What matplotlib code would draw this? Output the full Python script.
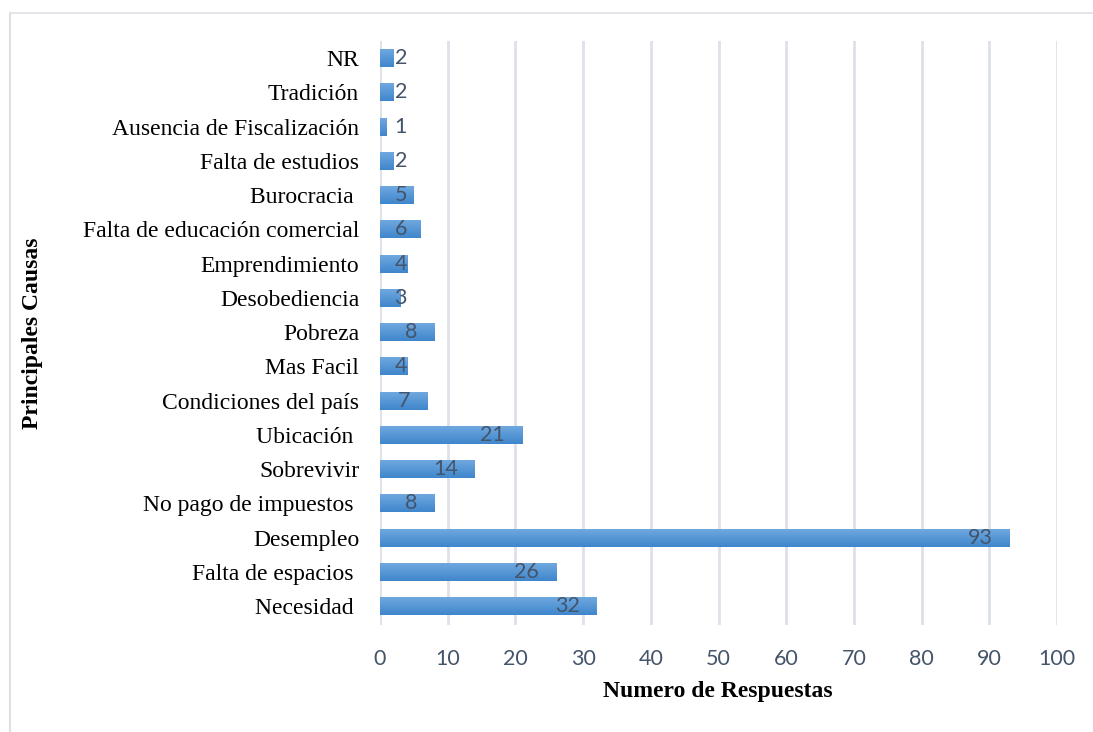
import numpy as np
import matplotlib.pyplot as plt
from matplotlib.colors import LinearSegmentedColormap
from matplotlib.lines import Line2D

# categorias de abajo hacia arriba
causas = ["Necesidad ", "Falta de espacios ", "Desempleo", "No pago de impuestos ",
          "Sobrevivir", "Ubicación ", "Condiciones del país", "Mas Facil", "Pobreza",
          "Desobediencia", "Emprendimiento", "Falta de educación comercial", "Burocracia ",
          "Falta de estudios", "Ausencia de Fiscalización", "Tradición", "NR"]
respuestas = [32, 26, 93, 8, 14, 21, 7, 4, 8, 3, 4, 6, 5, 2, 1, 2, 2]
x_ticks = [0, 10, 20, 30, 40, 50, 60, 70, 80, 90, 100]

serif = ["Liberation Serif", "DejaVu Serif"]
sans = ["Lato", "DejaVu Sans"]
txt_color = "#44546A"

fig = plt.figure(figsize=(10.93, 7.32), dpi=100)
# marco exterior (solo arriba e izquierda)
x0 = 9.5 / 1093
y0 = 1 - 12.5 / 732
fig.lines.append(Line2D([x0, 1], [y0, y0], transform=fig.transFigure,
                        color="#DDE1E7", linewidth=1.2))
fig.lines.append(Line2D([x0, x0], [0, y0], transform=fig.transFigure,
                        color="#DDE1E7", linewidth=1.5))

ax = fig.add_axes([380 / 1093, 1 - 625 / 732, 677 / 1093, 584 / 732])
pos = list(range(len(causas)))
h = 0.52
ax.barh(pos, respuestas, height=h, color="#5B9BD5", zorder=3)

# degradado vertical como en Excel
grad = LinearSegmentedColormap.from_list("g", ["#3F86CC", "#6FA8DF"])
g = np.linspace(0, 1, 50).reshape(-1, 1)
for y, v in zip(pos, respuestas):
    ax.imshow(g, cmap=grad, aspect="auto", origin="lower",
              extent=[0, v, y - h / 2, y + h / 2], zorder=3.5)

for y, v in zip(pos, respuestas):
    ax.text(max(4.0, v - 2.5), y, str(v), ha="right", va="center",
            fontsize=15.5, color=txt_color, family=sans, zorder=4)

ax.set_xlim(0, 100)
ax.set_ylim(-0.55, 16.5)
ax.set_xticks(x_ticks)
ax.set_yticks(pos)
ax.set_yticklabels(causas, family=serif, fontsize=17, color="black")
for lbl in ax.get_xticklabels():
    lbl.set_family(sans)
ax.tick_params(axis="x", length=0, pad=17, labelsize=15.5, labelcolor=txt_color)
ax.tick_params(axis="y", length=0, pad=15)
ax.grid(axis="x", color="#DDE1E8", linewidth=2, zorder=0)
ax.set_axisbelow(True)
for s in ax.spines.values():
    s.set_visible(False)

fig.text(718 / 1093, 1 - 692 / 732, "Numero de Respuestas", ha="center", va="center",
         family=serif, fontsize=17, fontweight="bold")
fig.text(33 / 1093, 1 - 333 / 732, "Principales Causas", ha="center", va="center",
         rotation=90, family=serif, fontsize=17, fontweight="bold")

fig.savefig("out.png", dpi=100)
